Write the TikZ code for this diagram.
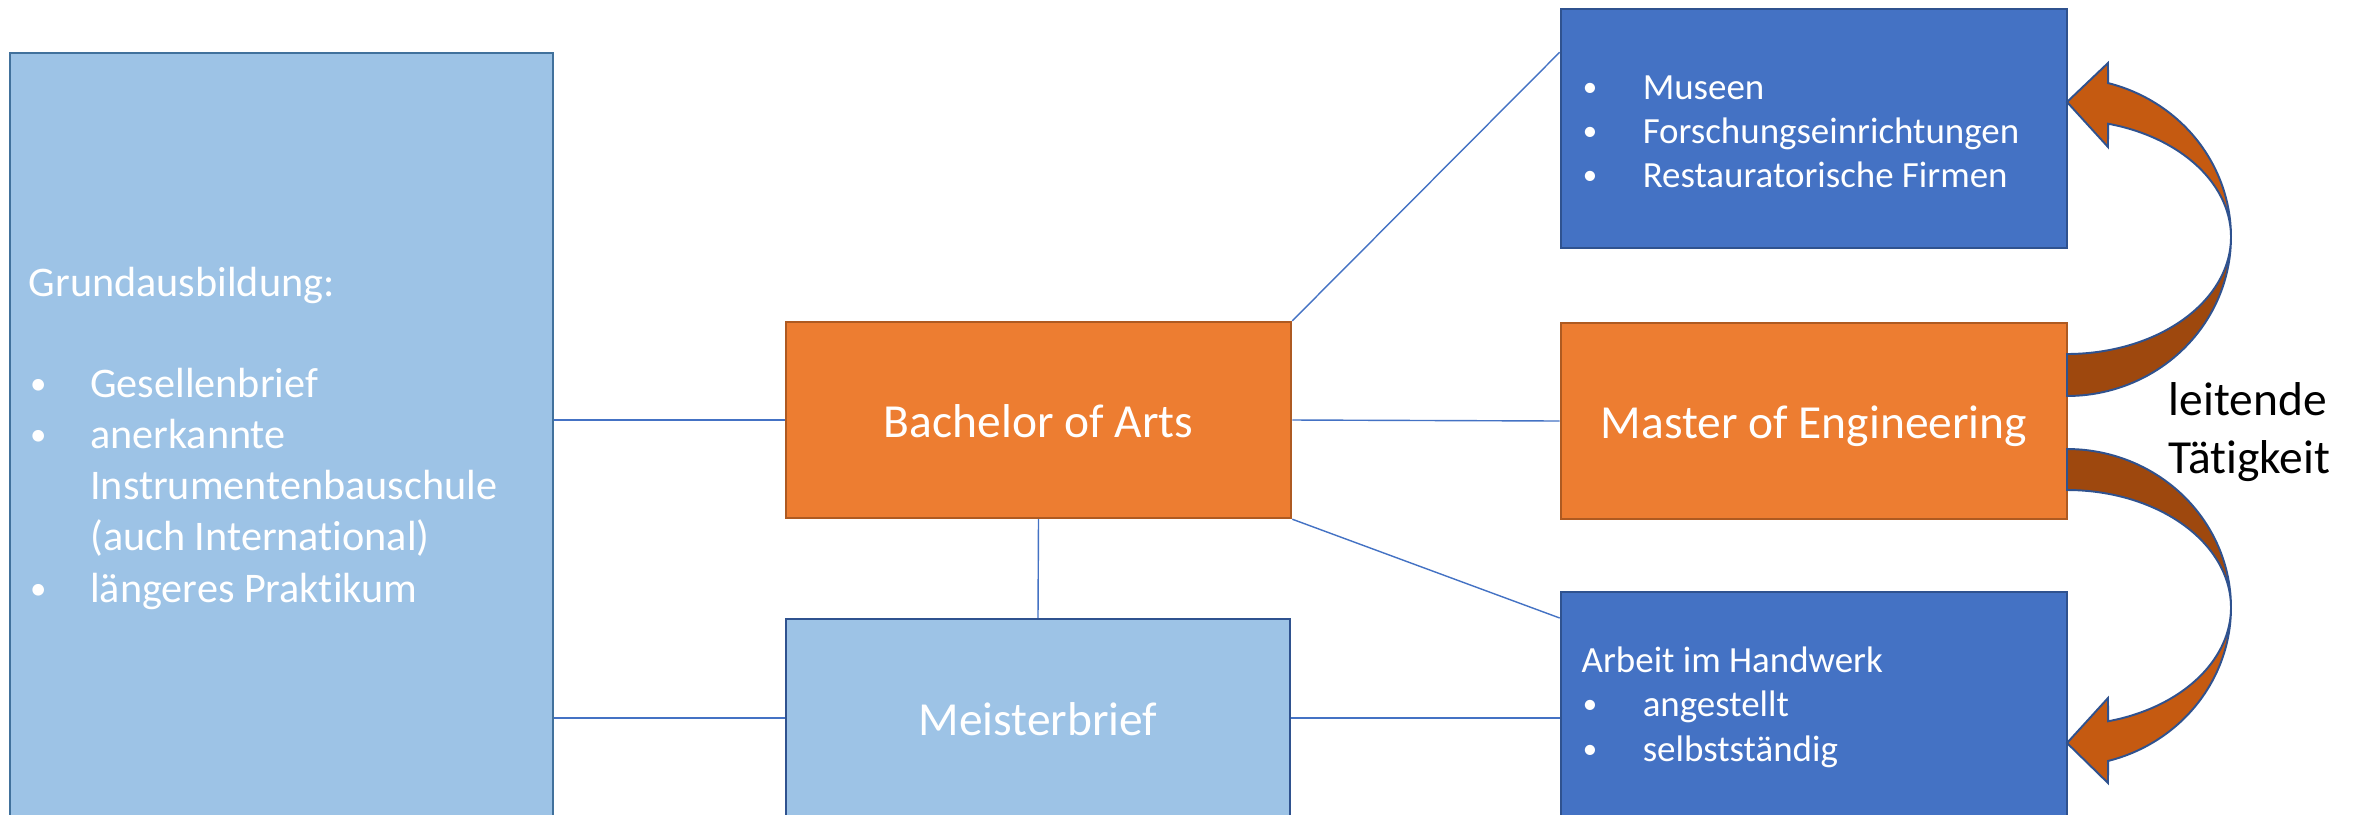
\documentclass[tikz,border=0pt]{standalone}
\usepackage{fontspec}
\setmainfont[Ligatures=NoCommon]{Carlito}
\usetikzlibrary{calc}
\definecolor{lblue}{HTML}{9DC3E6}
\definecolor{lblueb}{HTML}{41719C}
\definecolor{orng}{HTML}{ED7D31}
\definecolor{orngb}{HTML}{AE5A21}
\definecolor{dblue}{HTML}{4472C4}
\definecolor{dblueb}{HTML}{2F528F}
\definecolor{arrl}{HTML}{C55A11}
\definecolor{arrd}{HTML}{9E480E}
\newcommand\mybul{\hspace*{0.06em}\raisebox{0.06em}{\scalebox{0.78}{•}}}
\newcommand\blta{\makebox[0.625cm][l]{\mybul}}
\newcommand\bltb{\makebox[0.62cm][l]{\mybul}}
\begin{document}
\begin{tikzpicture}[x=0.01cm,y=-0.01cm,
  box/.style={rectangle, line width=0.65pt, inner sep=0pt},
  big/.style={text=white, font=\fontsize{13.5}{16}\selectfont, text height=0.42cm, text depth=0.07cm},
  conn/.style={draw=dblue, line width=0.4pt},
  lt/.style={text=white, inner sep=0pt, anchor=base west, font=\fontsize{12}{14.5}\selectfont},
  st/.style={text=white, inner sep=0pt, anchor=base west, font=\fontsize{10.5}{12.6}\selectfont},
  bt/.style={text=black, inner sep=0pt, anchor=base west, font=\fontsize{13.5}{16}\selectfont},
  arrout/.style={draw=dblueb, line width=0.55pt}]
\useasboundingbox (0,0) rectangle (2362,814);
\clip (0,0) rectangle (2362,814);
\fill[white] (0,0) rectangle (2362,814);

% boxes
\node[box, fill=lblue, draw=lblueb, minimum width=5.43cm, minimum height=7.77cm] (grund) at (281.5,441.5) {};
\node[box, big, fill=orng, draw=orngb, minimum width=5.05cm, minimum height=1.96cm] (bach) at (1038.5,420) {Bachelor of Arts};
\node[box, big, fill=lblue, draw=dblueb, minimum width=5.04cm, minimum height=1.98cm] (meist) at (1038,718) {Meisterbrief};
\node[box, fill=dblue, draw=dblueb, minimum width=5.06cm, minimum height=2.39cm] (mus) at (1814,128.5) {};
\node[box, big, fill=orng, draw=orngb, minimum width=5.06cm, minimum height=1.96cm] (mast) at (1814,421) {Master of Engineering};
\node[box, fill=dblue, draw=dblueb, minimum width=5.06cm, minimum height=2.52cm] (arb) at (1814,718) {};

% connectors
\coordinate (musin) at ($(mus.north west)!0.184!(mus.south west)$);
\coordinate (arbin) at ($(arb.north west)!0.107!(arb.south west)$);
\draw[conn] (grund.east |- bach.west) -- (bach.west);
\draw[conn] (grund.east |- meist.west) -- (meist.west);
\draw[conn] (bach.east) -- (mast.west);
\draw[conn] (bach.south) -- (meist.north);
\draw[conn] (meist.east) -- (arb.west);
\draw[conn] (bach.north east) -- (musin);
\draw[conn] (bach.south east) -- (arbin);

% texts left box
\node[lt] (g0) at (28,296) {Grundausbildung:};
\node[lt] (g1) at (27,397) {\blta Gesellenbrief};
\node[lt] (g2) at (27,448) {\blta anerkannte};
\node[lt] (g3) at (27,499) {\hspace*{0.625cm}Instrumentenbauschule};
\node[lt] (g4) at (27,550) {\hspace*{0.625cm}(auch International)};
\node[lt] (g5) at (27,602) {\blta längeres Praktikum};

% texts Museen box
\node[st] (m1) at (1580,99) {\bltb Museen};
\node[st] (m2) at (1580,143) {\bltb Forschungseinrichtungen};
\node[st] (m3) at (1580,187) {\bltb Restauratorische Firmen};

% texts Arbeit box
\node[st] (a0) at (1581,672) {Arbeit im Handwerk};
\node[st] (a1) at (1580,716) {\bltb angestellt};
\node[st] (a2) at (1580,761) {\bltb selbstständig};

% side label
\node[bt] (lt1) at (2168,415) {leitende};
\node[bt] (lt2) at (2168,473) {Tätigkeit};

% upper curved arrow
\draw[arrout, fill=arrd] plot[domain=90:0, samples=50] ({2067+164*cos(\x)},{237+159*sin(\x)})
  -- plot[domain=0:90, samples=50] ({2067+164*cos(\x)},{237+117*sin(\x)}) -- cycle;
\draw[arrout, fill=arrl] plot[domain=0:-75.5, samples=50] ({2067+164*cos(\x)},{237+159*sin(\x)})
  -- (2108,63) -- (2067,102) -- (2108,147)
  -- plot[domain=-75.5:0, samples=50] ({2067+164*cos(\x)},{237+117*sin(\x)}) -- cycle;

% lower curved arrow
\draw[arrout, fill=arrd] plot[domain=-90:0, samples=50] ({2067+164*cos(\x)},{607.5+158.5*sin(\x)})
  -- plot[domain=0:-90, samples=50] ({2067+164*cos(\x)},{607.5+117.5*sin(\x)}) -- cycle;
\draw[arrout, fill=arrl] plot[domain=0:75.5, samples=50] ({2067+164*cos(\x)},{607.5+158.5*sin(\x)})
  -- (2108,783) -- (2067,743) -- (2108,698)
  -- plot[domain=75.5:0, samples=50] ({2067+164*cos(\x)},{607.5+117.5*sin(\x)}) -- cycle;
\end{tikzpicture}
\end{document}
